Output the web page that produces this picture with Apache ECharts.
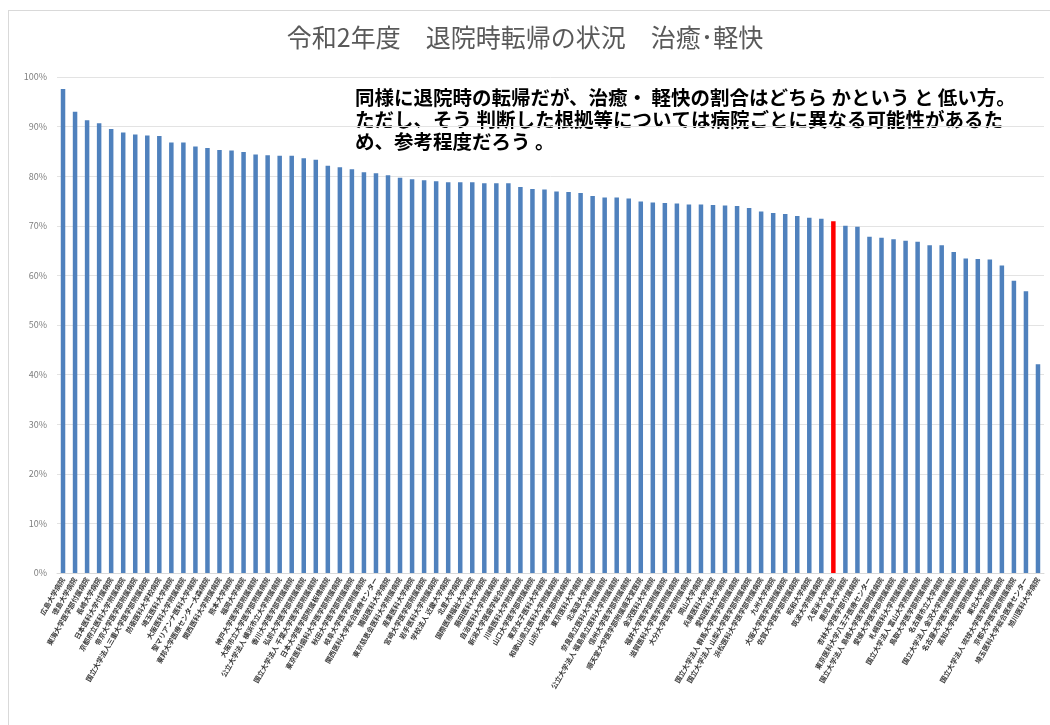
<!DOCTYPE html>
<html>
<head>
<meta charset="utf-8">
<script src="https://cdn.jsdelivr.net/npm/echarts@6/dist/echarts.min.js"></script>
<style>
  html, body { margin: 0; padding: 0; background: #fff; overflow: hidden; }
  #frame { position: absolute; left: 8px; top: 10px; width: 1100px; height: 800px; border: 1px solid #d9d9d9; }
  #chart { position: absolute; left: 0; top: 0; width: 1050px; height: 725px; }
</style>
</head>
<body>
<div id="frame"></div>
<div id="chart"></div>
<script>
// 病院名（横軸）
const hospitals = [
  '広島大学病院', '徳島大学病院', '東海大学医学部付属病院', '長崎大学病院', '日本医科大学付属病院',
  '京都府立医科大学附属病院', '帝京大学医学部附属病院', '国立大学法人三重大学医学部附属病院', '防衛医科大学校病院', '埼玉医科大学病院',
  '大阪医科大学附属病院', '聖マリアンナ医科大学病院', '東邦大学医療センター大森病院', '関西医科大学附属病院', '熊本大学病院',
  '福岡大学病院', '神戸大学医学部附属病院', '大阪市立大学医学部附属病院', '公立大学法人 横浜市立大学附属病院', '香川大学医学部附属病院',
  '弘前大学医学部附属病院', '国立大学法人 千葉大学医学部附属病院', '日本大学医学部附属板橋病院', '東京医科歯科大学医学部附属病院', '秋田大学医学部附属病院',
  '岐阜大学医学部附属病院', '関西医科大学総合医療センター', '獨協医科大学病院', '東京慈恵会医科大学附属病院', '産業医科大学病院',
  '宮崎大学医学部附属病院', '岩手医科大学附属病院', '学校法人 近畿大学病院', '北里大学病院', '国際医療福祉大学病院',
  '藤田医科大学病院', '自治医科大学附属病院', '新潟大学医歯学総合病院', '川崎医科大学附属病院', '山口大学医学部附属病院',
  '東京女子医科大学病院', '和歌山県立医科大学附属病院', '山形大学医学部附属病院', '東京医科大学病院', '北海道大学病院',
  '奈良県立医科大学附属病院', '公立大学法人 福島県立医科大学附属病院', '信州大学医学部附属病院', '順天堂大学医学部附属順天堂医院', '金沢医科大学病院',
  '福井大学医学部附属病院', '滋賀医科大学医学部附属病院', '大分大学医学部附属病院', '岡山大学病院', '兵庫医科大学病院',
  '愛知医科大学病院', '国立大学法人 群馬大学医学部附属病院', '国立大学法人 山梨大学医学部附属病院', '浜松医科大学医学部附属病院', '九州大学病院',
  '大阪大学医学部附属病院', '佐賀大学医学部附属病院', '昭和大学病院', '筑波大学附属病院', '久留米大学病院',
  '鹿児島大学病院', '杏林大学医学部付属病院', '東京医科大学八王子医療センター', '国立大学法人 島根大学医学部附属病院', '愛媛大学医学部附属病院',
  '札幌医科大学附属病院', '国立大学法人 富山大学附属病院', '鳥取大学医学部附属病院', '名古屋市立大学病院', '国立大学法人 金沢大学附属病院',
  '名古屋大学医学部附属病院', '高知大学医学部附属病院', '東北大学病院', '国立大学法人 琉球大学医学部附属病院', '京都大学医学部附属病院',
  '埼玉医科大学総合医療センター', '旭川医科大学病院'
]

// 治癒・軽快の割合（%）
const ratio = [
  97.6, 93.0, 91.3, 90.7, 89.5, 88.8, 88.4, 88.2, 88.1, 86.8,
  86.8, 86.0, 85.7, 85.3, 85.2, 84.9, 84.4, 84.2, 84.1, 84.1,
  83.6, 83.3, 82.1, 81.8, 81.4, 80.8, 80.6, 80.2, 79.7, 79.4,
  79.2, 79.0, 78.8, 78.8, 78.8, 78.6, 78.6, 78.6, 77.8, 77.4,
  77.3, 76.9, 76.8, 76.6, 76.0, 75.7, 75.7, 75.5, 74.9, 74.7,
  74.6, 74.5, 74.3, 74.3, 74.2, 74.1, 74.0, 73.6, 72.9, 72.6,
  72.4, 72.0, 71.6, 71.4, 70.9, 70.0, 69.8, 67.8, 67.6, 67.3,
  67.0, 66.8, 66.1, 66.1, 64.7, 63.4, 63.3, 63.2, 62.0, 58.9,
  56.8, 42.1
]

// 強調する病院
const highlight = '久留米大学病院'

const noteLines = [
  '同様に退院時の転帰だが、治癒・ 軽快の割合はどちら かという と 低い方。',
  'ただし、そう 判断した根拠等については病院ごとに異なる可能性があるた',
  'め、参考程度だろう 。'
]

const jpFont = '"Noto Sans CJK JP", "Noto Sans", sans-serif'

const myChart = echarts.init(document.getElementById('chart'))
myChart.setOption({
  animation: false,
  textStyle: { fontFamily: jpFont },
  title: {
    text: '令和2年度　退院時転帰の状況　治癒･軽快',
    left: 'center',
    top: 20,
    textStyle: {
      fontFamily: jpFont,
      fontSize: 25,
      fontWeight: 'normal',
      color: '#595959'
    }
  },
  graphic: [{
    type: 'text',
    left: 355,
    top: 87,
    style: {
      text: noteLines.join('\n'),
      font: 'bold 19.5px ' + jpFont,
      lineHeight: 22,
      fill: '#000'
    }
  }],
  grid: {
    left: 57,
    right: 6,
    top: 77,
    bottom: 152
  },
  xAxis: {
    type: 'category',
    data: hospitals,
    axisLine: { lineStyle: { color: '#d9d9d9' } },
    axisTick: { show: false },
    axisLabel: {
      interval: 0,
      rotate: 60,
      fontSize: 7,
      fontWeight: 'bold',
      color: '#3a3a3a',
      margin: 5,
      hideOverlap: false
    }
  },
  yAxis: {
    type: 'value',
    min: 0,
    max: 100,
    interval: 10,
    axisLine: { show: false },
    axisTick: { show: false },
    axisLabel: {
      formatter: '{value}%',
      fontSize: 9,
      color: '#7f7f7f',
      margin: 10
    },
    splitLine: { lineStyle: { color: '#e3e3e3' } }
  },
  series: [{
    type: 'bar',
    barWidth: 4.5,
    data: ratio.map((v, i) => ({
      value: v,
      itemStyle: { color: hospitals[i] === highlight ? '#ff0000' : '#4f81bd' }
    }))
  }]
})
</script>
</body>
</html>
